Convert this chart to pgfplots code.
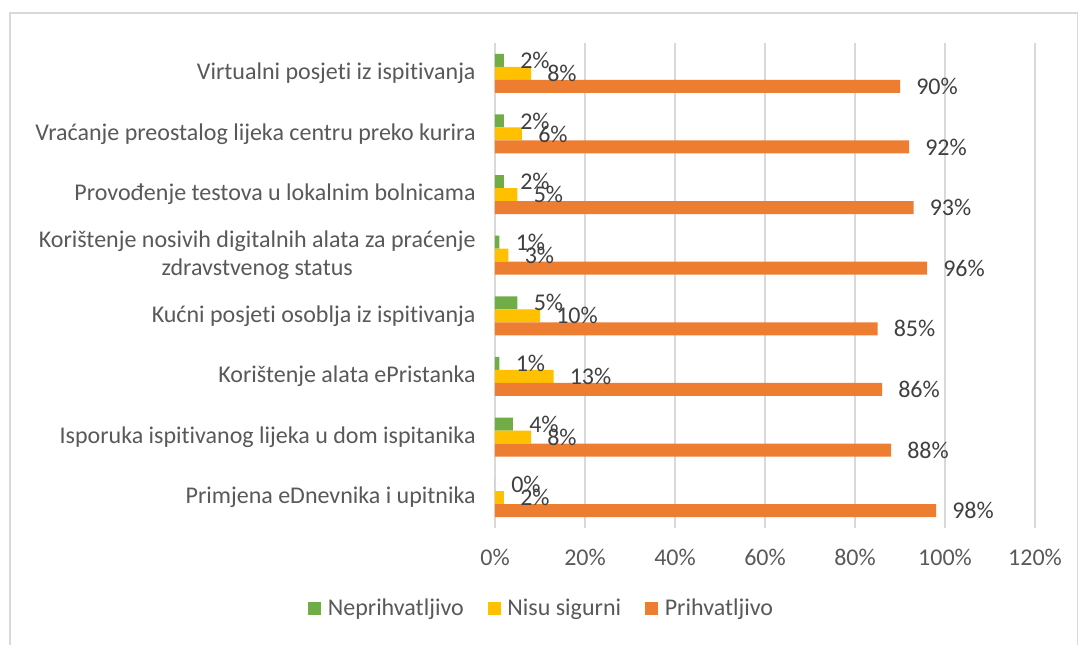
\documentclass[border=0pt]{standalone}
\usepackage{fontspec}
\setmainfont{Carlito}[Ligatures={NoCommon}]
\usepackage{pgfplots}
\pgfplotsset{compat=1.18}
\definecolor{cgreen}{HTML}{70AD47}
\definecolor{cyellow}{HTML}{FFC000}
\definecolor{corange}{HTML}{ED7D31}
\definecolor{ctext}{HTML}{595959}
\definecolor{clabel}{HTML}{404040}
\definecolor{cgrid}{HTML}{D9D9D9}
\newcommand{\chartfont}{\fontsize{18pt}{20.5pt}\selectfont}
\begin{document}
\begin{tikzpicture}
\useasboundingbox (0,0) rectangle (808.5pt,-483pt);
\fill[white] (0,0) rectangle (808.5pt,-483pt);
% chart border
\draw[cgrid, line width=1.2pt] (7.5pt,-495pt) -- (7.5pt,-9.75pt) -- (808pt,-9.75pt) -- (808pt,-495pt);
\begin{axis}[
    at={(371.25pt,-396pt)}, anchor=south west,
    scale only axis,
    width=405pt, height=363.75pt,
    xbar, bar width=9.75pt,
    xmin=0, xmax=120,
    ymin=-0.5, ymax=7.5,
    xtick={0,20,...,120},
    ytick={0,...,7},
    yticklabels={Primjena eDnevnika i upitnika,
        Isporuka ispitivanog lijeka u dom ispitanika,
        Korištenje alata ePristanka,
        Kućni posjeti osoblja iz ispitivanja,
        {Korištenje nosivih digitalnih alata za praćenje\\zdravstvenog status},
        Provođenje testova u lokalnim bolnicama,
        Vraćanje preostalog lijeka centru preko kurira,
        Virtualni posjeti iz ispitivanja},
    /pgf/number format/assume math mode=true,
    xticklabel={\pgfmathprintnumber{\tick}\%},
    xticklabel style={font=\chartfont, text=ctext, yshift=-12pt},
    yticklabel style={font=\chartfont, text=ctext, align=center, xshift=-11pt},
    major tick length=0pt,
    axis line style={draw=none},
    xmajorgrids,
    grid style={cgrid, line width=0.9pt},
    point meta=x,
    nodes near coords={\pgfmathprintnumber{\pgfplotspointmeta}\%},
    nodes near coords style={font=\chartfont, text=clabel, anchor=west, inner sep=0pt, xshift=12pt},
    legend columns=3,
    legend style={at={(0.087,-0.165)}, anchor=center, draw=none, fill=none,
        font=\chartfont, text=ctext,
        /tikz/every odd column/.append style={column sep=3pt},
        /tikz/every even column/.append style={column sep=16pt}},
    legend image code/.code={\fill[#1] (0pt,-4.9pt) rectangle (9.75pt,4.9pt);},
]
% Neprihvatljivo
\addplot[fill=cgreen, draw=none, bar shift=9.75pt] coordinates {
    (0,0) (4,1) (1,2) (5,3) (1,4) (2,5) (2,6) (2,7)};
% Nisu sigurni
\addplot[fill=cyellow, draw=none, bar shift=0pt] coordinates {
    (2,0) (8,1) (13,2) (10,3) (3,4) (5,5) (6,6) (8,7)};
% Prihvatljivo
\addplot[fill=corange, draw=none, bar shift=-9.75pt] coordinates {
    (98,0) (88,1) (86,2) (85,3) (96,4) (93,5) (92,6) (90,7)};
\legend{Neprihvatljivo, Nisu sigurni, Prihvatljivo}
\end{axis}
\end{tikzpicture}
\end{document}
